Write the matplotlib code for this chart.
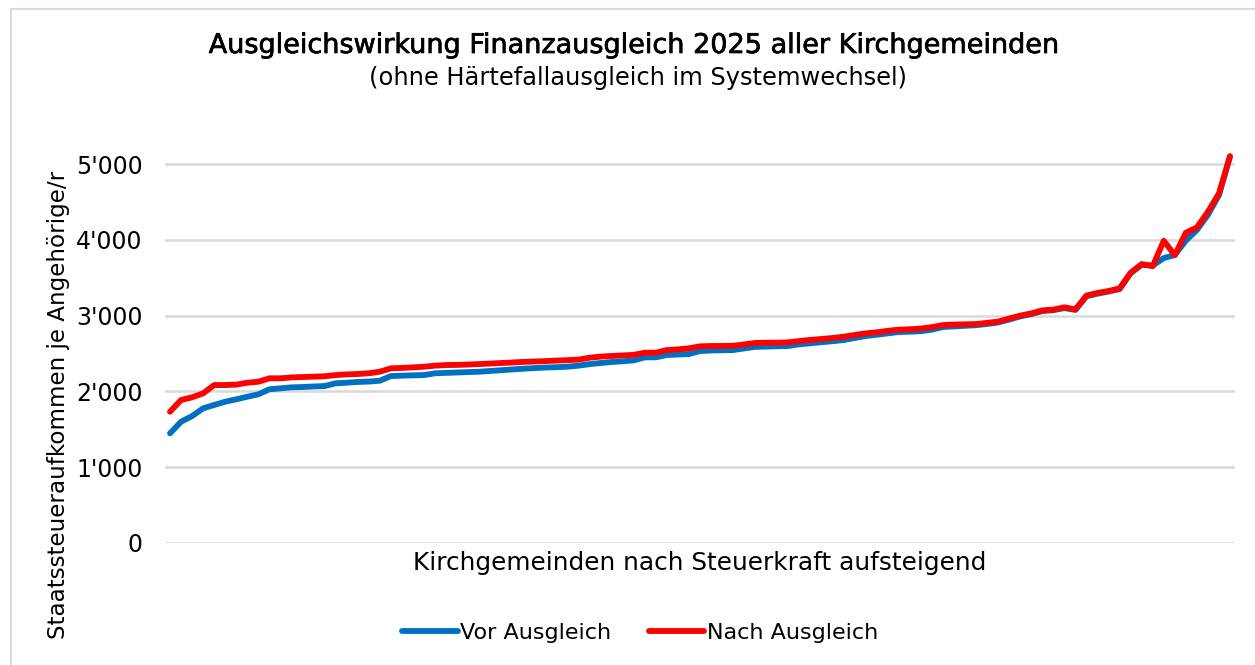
import matplotlib
matplotlib.use("Agg")
import matplotlib.pyplot as plt
import matplotlib.patheffects as pe
from matplotlib.patches import Rectangle
from matplotlib.ticker import FuncFormatter

# Kirchgemeinden nach Steuerkraft aufsteigend (Werte je Angehörige/r)
vor_ausgleich = [
    1447, 1600, 1675, 1777, 1821, 1864, 1896, 1930, 1962, 2028,
    2041, 2054, 2058, 2065, 2071, 2107, 2115, 2125, 2130, 2141,
    2203, 2208, 2212, 2216, 2239, 2245, 2250, 2255, 2260, 2270,
    2280, 2290, 2300, 2308, 2315, 2320, 2326, 2340, 2360, 2375,
    2388, 2398, 2410, 2450, 2450, 2480, 2487, 2493, 2533, 2540,
    2543, 2546, 2568, 2588, 2592, 2596, 2600, 2622, 2635, 2650,
    2663, 2678, 2705, 2731, 2748, 2766, 2784, 2788, 2795, 2815,
    2850, 2858, 2866, 2874, 2890, 2910, 2948, 2990, 3020, 3060,
    3072, 3100, 3075, 3255, 3290, 3318, 3350, 3560, 3670, 3660,
    3760, 3800, 3990, 4130, 4330, 4590, 5100,
]
nach_ausgleich = [
    1732, 1887, 1922, 1975, 2084, 2084, 2090, 2115, 2128, 2173,
    2173, 2185, 2190, 2195, 2200, 2216, 2225, 2230, 2240, 2260,
    2305, 2310, 2318, 2326, 2340, 2348, 2350, 2355, 2361, 2368,
    2375, 2382, 2390, 2395, 2400, 2407, 2413, 2420, 2445, 2460,
    2468, 2475, 2483, 2511, 2511, 2546, 2555, 2569, 2595, 2600,
    2600, 2603, 2620, 2640, 2643, 2643, 2648, 2665, 2680, 2692,
    2705, 2722, 2745, 2766, 2780, 2800, 2815, 2820, 2830, 2848,
    2876, 2882, 2886, 2889, 2905, 2922, 2962, 3000, 3030, 3070,
    3080, 3110, 3083, 3265, 3300, 3325, 3360, 3566, 3681, 3654,
    3988, 3799, 4094, 4165, 4371, 4613, 5105,
]
y_ticks = [0, 1000, 2000, 3000, 4000, 5000]

plt.rcParams["font.family"] = ["DejaVu Sans"]

fig = plt.figure(figsize=(12.55, 6.65), dpi=100)
ax = fig.add_axes([165 / 1255, 0.1835, 1070 / 1255, 0.5925])

x = list(range(len(vor_ausgleich)))
ax.plot(x, vor_ausgleich, color="#0070C0", lw=4.2, solid_capstyle="round",
        solid_joinstyle="round", label="Vor Ausgleich", clip_on=False)
ax.plot(x, nach_ausgleich, color="#FF0000", lw=4.2, solid_capstyle="round",
        solid_joinstyle="round", label="Nach Ausgleich", clip_on=False)

ax.set_xlim(-0.453, len(x) - 1 + 0.453)
ax.set_ylim(0, 5200)
ax.set_yticks(y_ticks)
ax.yaxis.set_major_formatter(FuncFormatter(lambda v, p: f"{int(v):,}".replace(",", "'")))
ax.set_xticks([])
ax.tick_params(axis="y", length=0, labelsize=17, pad=16)
for s in ax.spines.values():
    s.set_visible(False)
ax.grid(axis="y", color="#d9d9d9", lw=1.8)
ax.set_axisbelow(True)

fig.text(0.047, 1 - 405 / 665, "Staatssteueraufkommen je Angehörige/r", rotation=90,
         ha="center", va="center", fontsize=16.6)
fig.text(700 / 1255, 1 - 563 / 665, "Kirchgemeinden nach Steuerkraft aufsteigend",
         ha="center", va="center", fontsize=17.8)
fig.text(635 / 1255, 1 - 46 / 665, "Ausgleichswirkung Finanzausgleich 2025 aller Kirchgemeinden",
         ha="center", va="center", fontsize=19.5,
         path_effects=[pe.withStroke(linewidth=0.5, foreground="black")])
fig.text(638 / 1255, 1 - 78 / 665, "(ohne Härtefallausgleich im Systemwechsel)",
         ha="center", va="center", fontsize=17.4)

fig.legend(loc="center", bbox_to_anchor=(640 / 1255, 1 - 633 / 665), ncol=2, frameon=False,
           fontsize=16, handlelength=2.5, handletextpad=0.1, columnspacing=1.7)

fig.patches.append(Rectangle((11 / 1255, -0.1), 2, 1.1 - 9 / 665, transform=fig.transFigure,
                             fill=False, edgecolor="#d9d9d9", lw=1.5))

fig.savefig("out.png", dpi=100)
